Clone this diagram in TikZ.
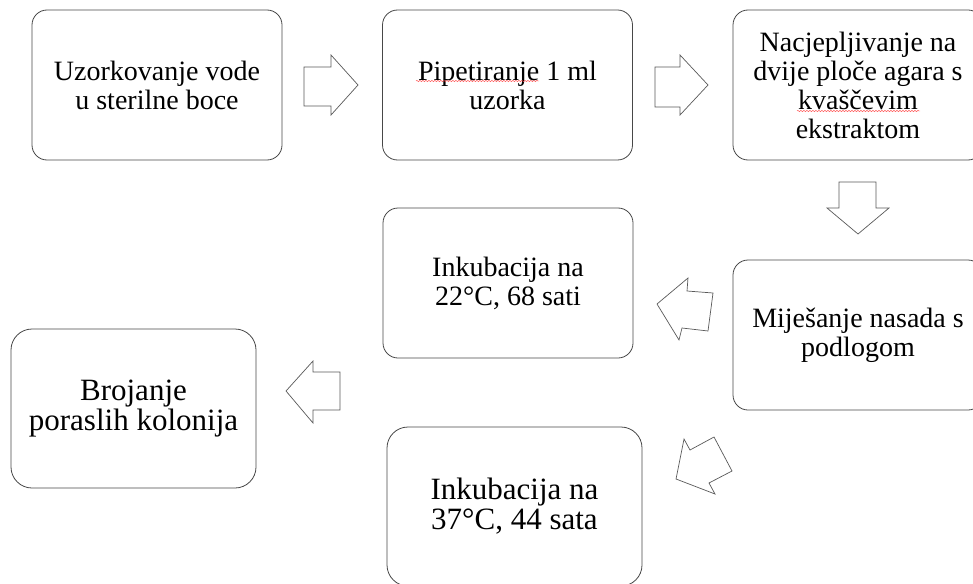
\documentclass[tikz,border=0pt]{standalone}
\usepackage{fontspec}
\setmainfont{Liberation Serif}
\usetikzlibrary{decorations.pathmorphing}
\begin{document}
\begin{tikzpicture}[x=1pt,y=-1pt,
  box/.style={draw=black!72, line width=0.8pt, rounded corners=15pt, align=center, inner sep=0pt,
    font=\fontsize{28}{29}\selectfont, minimum width=250pt, minimum height=150pt},
  bigbox/.style={box, rounded corners=21pt, font=\fontsize{31}{30}\selectfont, minimum height=159pt},
  barrow/.style={draw=black!65, line width=0.7pt, line join=miter, fill=white},
  spell/.style={draw=red!75, line width=0.45pt, decorate, decoration={snake, amplitude=0.6pt, segment length=3pt}}]
\useasboundingbox (0,0) rectangle (973,583);
\begin{scope}
\clip (0,0) rectangle (973,583);
\node[box] (b1) at (157,85) {Uzorkovanje vode\\u sterilne boce};
\node[box] (b2) at (507.5,85) {Pipetiranje 1 ml\\uzorka};
\node[box] (b3) at (858,85) {Nacjepljivanje na\\dvije ploče agara s\\kvaščevim\\ekstraktom};
\node[box] (b4) at (858,335) {Miješanje nasada s\\podlogom};
\node[box] (b5) at (508,283) {Inkubacija na\\22°C, 68 sati};
\node[bigbox, minimum width=255pt] (b6) at (514.5,506.5) {Inkubacija na\\37°C, 44 sata};
\node[bigbox, minimum width=245pt] (b7) at (133.5,408.5) {Brojanje\\poraslih kolonija};
\end{scope}
% spell-check underlines
\draw[spell] (416,81) -- (539,81);
\draw[spell] (797,111) -- (920,111);
% block arrows
\draw[barrow] (304,67) -- (331,67) -- (331,55) -- (358,85) -- (331,115) -- (331,106) -- (304,106) -- cycle;
\draw[barrow] (655,67) -- (680,67) -- (680,55) -- (708,85) -- (680,115) -- (680,107) -- (655,107) -- cycle;
\draw[barrow] (839,182) -- (876,182) -- (876,208) -- (889,208) -- (858,234) -- (827,208) -- (839,208) -- cycle;
\draw[barrow] (340,372) -- (313,372) -- (313,361) -- (286,391) -- (313,423) -- (313,410) -- (340,410) -- cycle;
\draw[barrow] (657,304) -- (688,278) -- (687,291) -- (713,293) -- (708,331) -- (682,328) -- (679,340) -- cycle;
\draw[barrow] (676,479) -- (684,439) -- (690,450) -- (714,437) -- (732,471) -- (709,483) -- (715,494) -- cycle;
\end{tikzpicture}
\end{document}
